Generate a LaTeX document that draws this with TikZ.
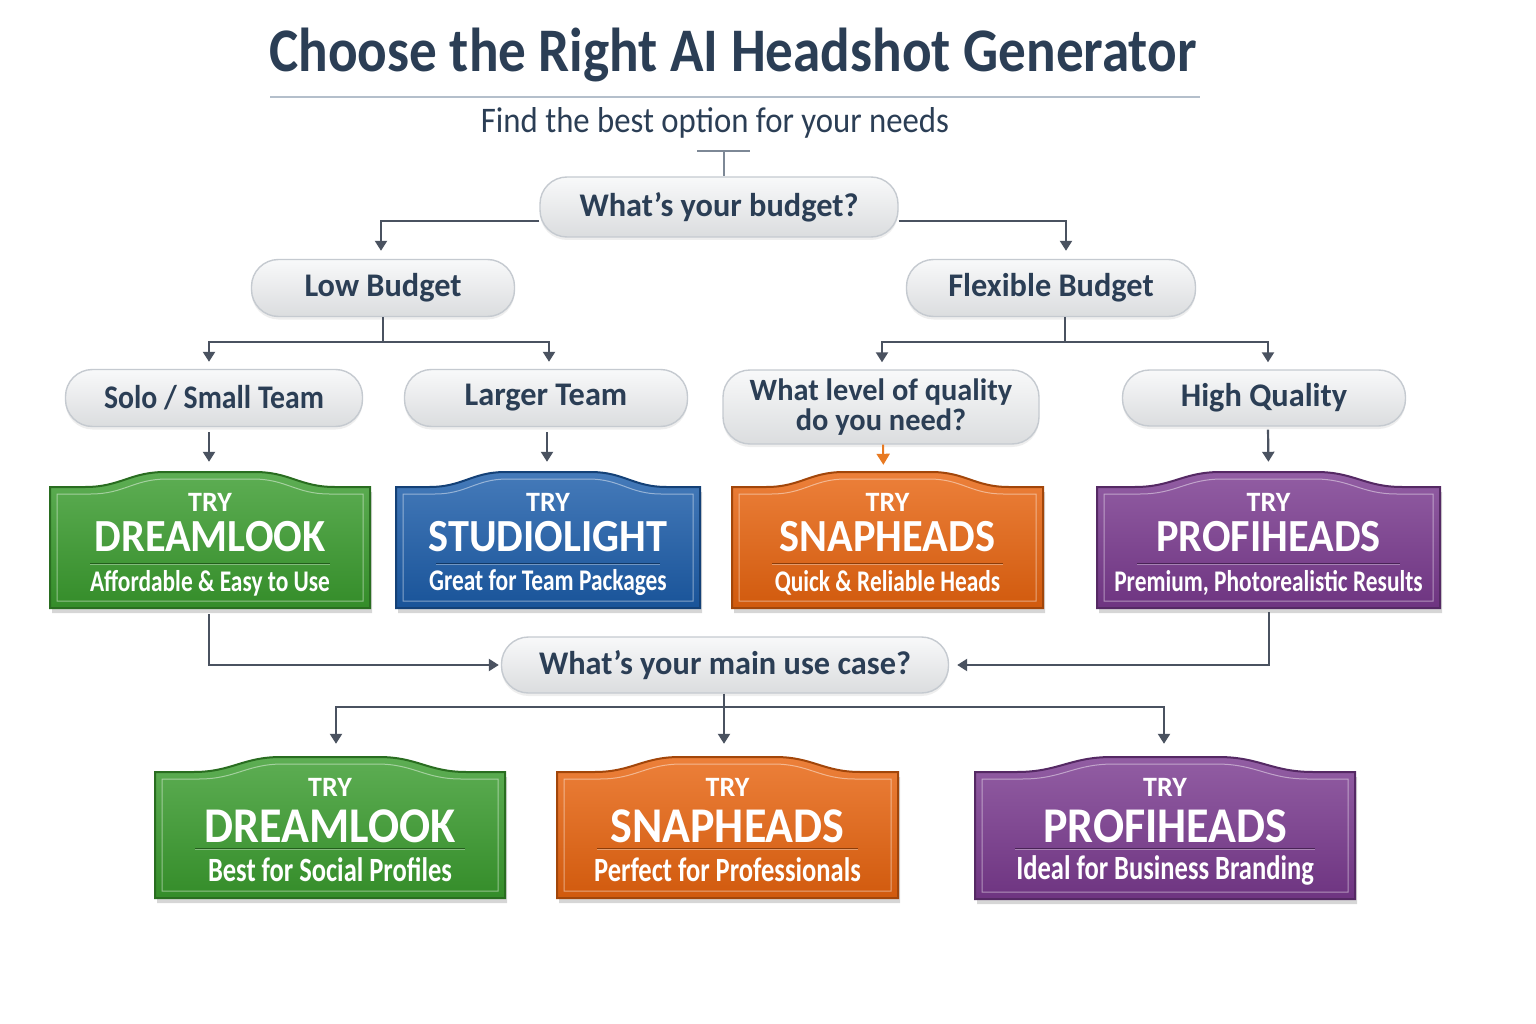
\documentclass[tikz,border=0pt]{standalone}
\usepackage{fontspec}
\setmainfont{Carlito}
\newfontfamily\titlef{Carlito}[FakeStretch=0.89]
\newfontfamily\subtf{Carlito}[FakeStretch=0.91]
\newfontfamily\pillf{Carlito}[FakeStretch=0.98]
\newfontfamily\namef{Carlito}[FakeStretch=0.92]
\newfontfamily\condf{Carlito}[FakeStretch=0.78]
\usetikzlibrary{arrows.meta,shadows,calc}
\definecolor{ink}{HTML}{2B3E55}
\definecolor{conn}{HTML}{4A5260}
\definecolor{pillfill}{HTML}{EEF0F2}
\definecolor{pilldraw}{HTML}{C5CAD0}
\definecolor{rulec}{HTML}{B4BFCB}
\definecolor{teec}{HTML}{7D8896}
\definecolor{gr}{HTML}{3A9C2E}
\definecolor{bl}{HTML}{1C5DAA}
\definecolor{orng}{HTML}{E8640F}
\definecolor{pu}{HTML}{7A3A8F}
\definecolor{arrorng}{HTML}{E87A22}
\tikzset{
  pill/.style={draw=pilldraw, top color=white!60!pillfill, bottom color=pillfill!92!black, line width=1.4pt, rounded corners=27pt,
    text=ink, inner sep=0pt, align=center,
    font=\pillf\bfseries\fontsize{33}{33}\selectfont,
    drop shadow={shadow xshift=0pt, shadow yshift=-3pt, opacity=0.13}},
  conline/.style={draw=conn, line width=2.2pt},
  arr/.style={conline, -{Triangle[width=12pt,length=10pt]}},
  tryt/.style={text=white, inner sep=0pt, font=\bfseries\fontsize{28}{28}\selectfont},
  hit/.style={inner sep=0pt, draw=none}
}
\newcommand\signpath[4]{({#1},{#4}) -- ({#1},{#3}) -- ({(#1)+0.11*((#2)-(#1))},{#3}) .. controls ({(#1)+0.22*((#2)-(#1))},{#3}) and ({(#1)+0.25*((#2)-(#1))},{#3-15}) .. ({(#1)+0.36*((#2)-(#1))},{#3-15}) -- ({(#2)-0.36*((#2)-(#1))},{#3-15}) .. controls ({(#2)-0.25*((#2)-(#1))},{#3-15}) and ({(#2)-0.22*((#2)-(#1))},{#3}) .. ({(#2)-0.11*((#2)-(#1))},{#3}) -- ({#2},{#3}) -- ({#2},{#4}) -- cycle}
% #1 name, #2 L, #3 R, #4 T, #5 B, #6 colour, #7 title, #8 subtitle, #9 title size
\newcommand\signbox[9]{%
  \fill[black, opacity=.16, shift={(2,5)}] \signpath{#2}{#3}{#4}{#5};
  \shadedraw[top color=#6!82!white, bottom color=#6!90!black, draw=#6!70!black, line width=2pt] \signpath{#2}{#3}{#4}{#5};
  \draw[white, opacity=.45, line width=1pt] \signpath{#2+7}{#3-7}{#4+7}{#5-7};
  \node[hit, minimum width={(#3)-(#2)}, minimum height={(#5)-(#4)+15}] (#1) at ({((#2)+(#3))/2},{((#4)-15+(#5))/2}) {};
  \node[tryt] (#1try) at ({((#2)+(#3))/2},{(#4)+15.5}) {TRY};
  \node[text=white, inner sep=0pt, font=\namef\bfseries\fontsize{#9}{#9}\selectfont] (#1name) at ({((#2)+(#3))/2},{(#4)+50+(#9-46)}) {#7};
  \draw[#6!60!black, line width=1pt] ({(#2)+40},{(#4)+76}) -- ({(#3)-40},{(#4)+76});
  \draw[white, opacity=.35, line width=1pt] ({(#2)+40},{(#4)+77.5}) -- ({(#3)-40},{(#4)+77.5});
  \node[text=white, inner sep=0pt, font=\condf\bfseries\fontsize{\the\numexpr#9-16\relax}{30}\selectfont] (#1sub) at ({((#2)+(#3))/2},{(#4)+96+(#9-46)/2}) {#8};
}
\begin{document}
\begin{tikzpicture}[x=1pt, y=-1pt]
\fill[white] (0,0) rectangle (1536,1024);
\useasboundingbox (0,0) rectangle (1536,1024);

% title
\node[text=ink, inner sep=0pt, font=\titlef\bfseries\fontsize{62}{62}\selectfont] (title) at (733,55) {Choose the Right AI Headshot Generator};
\draw[rulec, line width=1.5pt] (270,97) -- (1200,97);
\node[text=ink, inner sep=0pt, font=\subtf\fontsize{36}{36}\selectfont] (subtitle) at (715,123) {Find the best option for your needs};

% pills
\node[pill, minimum width=358, minimum height=60] (budget) at (719,207) {What’s your budget?};
\node[pill, minimum width=263, minimum height=57] (low) at (383,288) {Low Budget};
\node[pill, minimum width=289, minimum height=57] (flex) at (1051,288) {Flexible Budget};
\node[pill, minimum width=297, minimum height=57] (solo) at (214,398) {\scalebox{0.92}[1]{Solo / Small Team}};
\node[pill, minimum width=283, minimum height=57] (larger) at (546,398) {Larger Team};
\node[pill, minimum width=316, minimum height=74, font=\pillf\bfseries\fontsize{31}{30}\selectfont] (quality) at (881,407) {What level of quality\\do you need?};
\node[pill, minimum width=283, minimum height=56] (high) at (1264,398) {High Quality};
\node[pill, minimum width=447, minimum height=56] (use) at (725,665) {What’s your main use case?};

% signs row 1
\signbox{g1}{50}{370}{487}{608}{gr}{DREAMLOOK}{Affordable \& Easy to Use}{46}
\signbox{b1}{396}{700}{487}{608}{bl}{STUDIOLIGHT}{Great for Team Packages}{46}
\signbox{o1}{732}{1043}{487}{608}{orng}{SNAPHEADS}{Quick \& Reliable Heads}{46}
\signbox{p1}{1097}{1440}{487}{608}{pu}{PROFIHEADS}{Premium, Photorealistic Results}{46}
% signs row 2
\signbox{g2}{155}{505}{772}{898}{gr}{DREAMLOOK}{Best for Social Profiles}{50}
\signbox{o2}{557}{898}{772}{898}{orng}{SNAPHEADS}{Perfect for Professionals}{50}
\signbox{p2}{975}{1355}{772}{899}{pu}{PROFIHEADS}{Ideal for Business Branding}{50}

% connectors
\coordinate (tee) at (724,151);
\draw[teec, line width=1.6pt] ($(tee)+(-27,0)$) -- ($(tee)+(26,0)$);
\draw[teec, line width=1.6pt] (tee) -- (budget.north -| tee);

\draw[arr, shorten >=8pt] ($(budget.west)+(0,14)$) -| ($(low.north)+(-2,0)$);
\draw[arr, shorten >=8pt] ($(budget.east)+(0,14)$) -| ($(flex.north)+(15,0)$);

\coordinate (lj) at (383,342);
\draw[conline] (low.south) -- (lj);
\draw[arr, shorten >=7pt] (lj) -| ($(solo.north)+(-5,0)$);
\draw[arr, shorten >=7pt] (lj) -| ($(larger.north)+(3,0)$);

\coordinate (fj) at (1065,342);
\draw[conline] (flex.south -| fj) -- (fj);
\draw[arr, shorten >=7pt] (fj) -| ($(quality.north)+(1,0)$);
\draw[arr, shorten >=7pt] (fj) -| ($(high.north)+(4,0)$);

\draw[arr, shorten <=5pt, shorten >=10pt] ($(solo.south)+(-5,0)$) -- ($(g1.north)+(-1,0)$);
\draw[arr, shorten <=5pt, shorten >=10pt] ($(larger.south)+(1,0)$) -- ($(b1.north)+(-1,0)$);
\draw[draw=arrorng, line width=2pt, -{Triangle[width=13pt,length=11pt]}, shorten >=7pt] ($(quality.south)+(2,0)$) -- ($(o1.north)+(-4,0)$);
\draw[arr, shorten <=3pt, shorten >=10pt] ($(high.south)+(4,0)$) -- ($(p1.north)+(0,0)$);

\draw[arr, shorten <=6pt, shorten >=2pt] ($(g1.south)+(-1,0)$) |- (use.west);
\draw[arr, shorten <=4pt, shorten >=8pt] ($(p1.south)+(0.5,0)$) |- (use.east);

\coordinate (uj) at (724,707);
\draw[arr, shorten >=13pt] (use.south -| uj) -- (o2.north -| uj);
\draw[arr, shorten >=13pt] (uj) -| ($(g2.north)+(6,0)$);
\draw[arr, shorten >=13pt] (uj) -| ($(p2.north)+(-1,0)$);
\end{tikzpicture}
\end{document}
